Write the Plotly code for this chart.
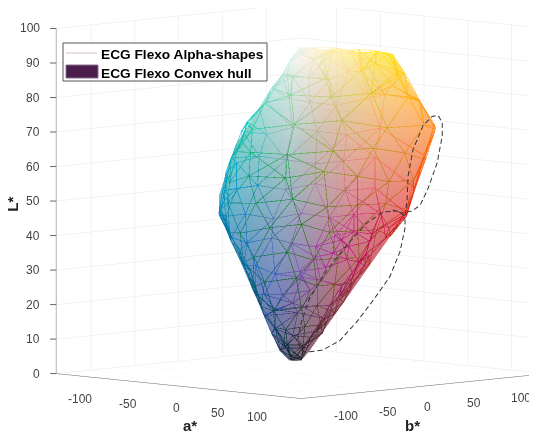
import math
import plotly.graph_objects as go

# Convex hull corners (a*, b*, L*)
hull_a = [-2, -5, 60, 72, 2, -3, 12, -2, 8, -48, -50, -60, -70, 78, 28, -30]
hull_b = [0, 109, 93, 48, -2, -11, -3, -23, -56, -46, -44, -15, 50, -5, -55, 40]
hull_L = [94.4, 89.6, 70.4, 47.1, 4, 4, 6.9, 7.1, 22.8, 46.4, 51.6, 65.2, 55, 48, 25, 85]
hull_colors = ["#fff6ea", "#ffdc00", "#ff7a10", "#e8141c", "#1a1020", "#14102c", "#5a0a30", "#14126a",
               "#1a30b0", "#00759c", "#0092b8", "#00a888", "#18a050", "#e0106a", "#3030c0", "#c8e0b0"]

# Alpha-shape vertices, read ring by ring from L* about 4 up to 94, then the dense rims
net_a = [-3, 2, 6, -8, 3, -6,
         10, 2, -8, -14, -4, 6, -10, 12,
         18, 22, 14, 4, -10, -22, -24, -10, 8,
         30, 34, 24, 14, 2, -16, -32, -38, -22, -6, 14,
         42, 50, 42, 30, 20, -2, -24, -42, -50, -36, -18, 2, 26,
         52, 62, 58, 44, 28, 8, -20, -38, -54, -62, -50, -30, -6, 22, 44,
         62, 72, 66, 52, 36, 16, -10, -30, -46, -58, -68, -62, -44, -22, 4, 30, 52,
         72, 74, 66, 50, 30, 6, -18, -34, -48, -56, -70, -72, -54, -30, -4, 24, 50, 68,
         70, 64, 46, 26, 4, -16, -30, -44, -54, -68, -74, -60, -36, -10, 18, 46, 64,
         66, 50, 32, 12, -8, -24, -38, -50, -62, -70, -56, -30, -4, 22, 48, 66,
         60, 42, 22, 4, -12, -26, -42, -54, -62, -46, -22, 6, 32, 56,
         42, 22, 6, -8, -20, -34, -46, -40, -24, -4, 18, 36,
         18, 6, -4, -12, -20, -24, -16, -6, 6, 12,
         0, -4, -8, -10, -8, -6, -2, -4, -6,
         -2, -3, -4, -5, -5, -5,
         10, 14, 22, 26, 32, 38, 40, 30, 46, 52, 54, 54, 60, 64, 64, 64, 70, 70, 66, 58,
         68, 60, 50, 50, 40, 32, 26,
         -44, -42, -36, -30, -22, -48, -52, -56, -58, -50, -40, -32, -22, -14, -30, -24, -40, -46,
         -2, 0, 10, 4, -10, 14, 24, 30]
net_b = [-8, -2, -6, -4, -12, 2,
         -3, -20, -16, -2, 6, -1, -10, -10,
         6, -6, -24, -34, -24, -8, 6, 14, 14,
         8, -8, -28, -44, -44, -28, -14, 6, 22, 24, 20,
         14, -6, -32, -52, -62, -50, -30, -14, 8, 30, 36, 36, 30,
         20, -4, -30, -46, -58, -60, -46, -32, -12, 8, 34, 44, 48, 44, 34,
         34, 6, -20, -36, -48, -50, -52, -50, -38, -24, -2, 26, 44, 54, 60, 56, 50,
         48, 16, -6, -18, -30, -38, -46, -52, -46, -36, -14, 20, 44, 60, 68, 72, 70, 52,
         60, 20, 4, -10, -22, -34, -44, -46, -32, -14, 14, 42, 62, 74, 82, 82, 64,
         76, 34, 16, 4, -10, -24, -36, -30, -12, 12, 40, 66, 86, 96, 92, 74,
         93, 48, 30, 14, 2, -14, -26, -8, 6, 38, 68, 92, 108, 96,
         92, 56, 34, 18, 6, -6, 4, 28, 58, 84, 104, 100,
         100, 62, 36, 20, 4, 14, 44, 76, 104, 98,
         100, 70, 44, 24, 8, 2, 90, 60, 30,
         0, 20, 45, 70, 90, 109,
         4, -4, 6, -4, 12, 4, -8, 18, 16, 6, -8, 24, 14, 2, -12, 36, 24, 10, -6, -20,
         -14, -24, -34, -28, -40, -30, -36,
         -42, -38, -34, -30, -26, -40, -34, -24, -10, -12, -8, -2, 0, 0, -40, -34, -46, -48,
         8, 35, 60, 80, 30, 40, 80, 65]
net_L = [4, 4, 5, 5, 5, 5,
         8, 8, 7, 8, 8, 9, 9, 8,
         12, 13, 12, 14, 12, 13, 12, 13, 14,
         18, 17, 19, 20, 18, 18, 19, 17, 18, 19, 18,
         25, 24, 26, 25, 25, 24, 26, 24, 25, 26, 24, 25, 26,
         32, 31, 33, 32, 31, 33, 32, 33, 31, 32, 33, 31, 32, 33, 32,
         40, 40, 41, 39, 40, 41, 39, 40, 41, 40, 39, 40, 41, 39, 40, 41, 40,
         47, 48, 48, 47, 48, 46, 47, 46, 46, 47, 48, 47, 48, 46, 47, 48, 47, 46,
         54, 55, 54, 56, 54, 55, 54, 53, 55, 54, 55, 54, 56, 55, 54, 55, 53,
         62, 63, 62, 61, 62, 63, 61, 62, 63, 62, 61, 62, 63, 62, 61, 63,
         70, 71, 69, 70, 71, 69, 70, 71, 69, 70, 71, 69, 70, 71,
         78, 79, 77, 78, 79, 78, 77, 79, 78, 79, 78, 77,
         85, 86, 84, 85, 86, 85, 84, 86, 85, 84,
         90, 91, 92, 90, 92, 93, 91, 92, 91,
         94.4, 93.8, 93, 92, 90.5, 89.6,
         10, 11, 15, 16, 22, 23, 21, 21, 28, 29, 27, 35, 36, 34, 35, 43, 44, 42, 43, 42,
         39, 37, 36, 29, 30, 21, 22,
         44, 38, 34, 28, 22, 50, 58, 62, 66, 72, 76, 82, 86, 90, 36, 30, 42, 47,
         94, 93.5, 90, 88, 88, 87, 82, 80]

# Dashed ellipses
ell1_a = [54.6, 62, 71.8, 81.6, 90.8, 100.5, 106.3, 109.1, 109.1, 104.5, 96.5, 87.3, 75.8, 64.4, 54.6, 50, 47.7, 50.6, 54.6]
ell1_b = [-45.4, -38, -28.2, -18.4, -9.2, 0.5, 6.3, 9.1, 9.1, 4.5, -3.5, -12.7, -24.2, -35.6, -45.4, -50, -52.3, -49.4, -45.4]
ell1_L = [8.9, 9.4, 12.1, 17.6, 23.7, 30.7, 38, 44.7, 48.2, 49.7, 49.4, 46.2, 39.8, 32.5, 24.3, 17.6, 11.8, 8.9, 8.9]
ell2_a = [109.1, 110.3, 110.9, 113.7, 119.5, 124.6, 128, 130.4, 130.4, 127.5, 122.4, 117.8, 113.2, 107.4, 102.2]
ell2_b = [9.1, 10.3, 10.9, 13.7, 19.5, 24.6, 28, 30.4, 30.4, 27.5, 22.4, 17.8, 13.2, 7.4, 2.2]
ell2_L = [48.2, 52.9, 59.9, 67.5, 74.5, 77.1, 77.4, 75.3, 71.5, 63.7, 56.4, 51.4, 49.7, 49.1, 50]

tick_vals_ab = [-100, -50, 0, 50, 100]
tick_vals_L = [0, 10, 20, 30, 40, 50, 60, 70, 80, 90, 100]
legend_names = ["ECG Flexo Alpha-shapes", "ECG Flexo Convex hull"]
axis_titles = ["a*", "b*", "L*"]
a_label_dx = [-11, -7, -2, -5, -9]
b_label_dx = [10, 8, 3, 6, 9]


def lab_rgb(L, a, b):
    # The darkest net colours read brighter and purer in the reference
    if L < 40:
        L, a, b = min(L + 8, 40), a * 1.15, b * 1.15
    fy = (L + 16) / 116
    fx = fy + a / 500
    fz = fy - b / 200
    def inv(t):
        return t ** 3 if t > 6 / 29 else 3 * (6 / 29) ** 2 * (t - 4 / 29)
    X, Y, Z = 0.9505 * inv(fx), inv(fy), 1.089 * inv(fz)
    lin = (3.2406 * X - 1.5372 * Y - 0.4986 * Z,
           -0.9689 * X + 1.8758 * Y + 0.0415 * Z,
           0.0557 * X - 0.204 * Y + 1.057 * Z)
    def gam(c):
        c = max(0, min(1, c))
        return 12.92 * c if c < 0.0031308 else 1.055 * c ** (1 / 2.4) - 0.055
    return "rgb(%d,%d,%d)" % tuple(round(255 * gam(c)) for c in lin)


# Edges: connect every vertex to its nearest neighbours, measured as drawn (L* is stretched)
n = len(net_a)
pairs = set()
for i in range(n):
    d = sorted((math.hypot(net_a[i] - net_a[j], net_b[i] - net_b[j], 2.8 * (net_L[i] - net_L[j])), j)
               for j in range(n) if j != i)
    for _, j in d[:6]:
        pairs.add((min(i, j), max(i, j)))
ex, ey, ez, ec = [], [], [], []
for i, j in sorted(pairs):
    ci, cj = lab_rgb(net_L[i], net_a[i], net_b[i]), lab_rgb(net_L[j], net_a[j], net_b[j])
    ex += [net_a[i], net_a[j], None]
    ey += [net_b[i], net_b[j], None]
    ez += [net_L[i], net_L[j], None]
    ec += [ci, cj, cj]

# Convex hull faces, listed back to front so that both layers blend
m = len(hull_a)
P = [(hull_a[t] / 280, hull_b[t] / 280, hull_L[t] / 100) for t in range(m)]
faces = []
for p in range(m):
    for q in range(p + 1, m):
        for r in range(q + 1, m):
            u = [P[q][t] - P[p][t] for t in range(3)]
            v = [P[r][t] - P[p][t] for t in range(3)]
            nrm = (u[1] * v[2] - u[2] * v[1], u[2] * v[0] - u[0] * v[2], u[0] * v[1] - u[1] * v[0])
            s = [sum(nrm[t] * (P[w][t] - P[p][t]) for t in range(3)) for w in range(m) if w not in (p, q, r)]
            if all(x <= 1e-9 for x in s) or all(x >= -1e-9 for x in s):
                faces.append((p, q, r))
faces.sort(key=lambda f: sum(P[w][0] - P[w][1] + 0.145 * P[w][2] for w in f))


def dashed(xs, ys, zs, on=5.0, off=3.0):
    """Cut a curve into dash pieces, measuring lengths as they appear on the page."""
    ox, oy, oz = [], [], []
    phase, drawing = 0.0, True
    ox.append(xs[0]); oy.append(ys[0]); oz.append(zs[0])
    for t in range(len(xs) - 1):
        da, db, dl = xs[t + 1] - xs[t], ys[t + 1] - ys[t], zs[t + 1] - zs[t]
        seg = math.hypot(0.871 * (da + db), 0.0888 * (da - db) - 3.43 * dl)
        pos = 0.0
        while seg > 0 and pos < seg:
            left = (on if drawing else off) - phase
            if pos + left <= seg:
                pos += left
                f = pos / seg
                qx, qy, qz = xs[t] + da * f, ys[t] + db * f, zs[t] + dl * f
                if drawing:
                    ox += [qx, None]; oy += [qy, None]; oz += [qz, None]
                else:
                    ox.append(qx); oy.append(qy); oz.append(qz)
                drawing = not drawing
                phase = 0.0
            else:
                phase += seg - pos
                pos = seg
                if drawing:
                    ox.append(xs[t + 1]); oy.append(ys[t + 1]); oz.append(zs[t + 1])
    return ox, oy, oz


fig = go.Figure()
fig.add_trace(go.Mesh3d(x=hull_a, y=hull_b, z=hull_L, i=[f[0] for f in faces], j=[f[1] for f in faces], k=[f[2] for f in faces],
                        vertexcolor=hull_colors, opacity=0.38, flatshading=False, name=legend_names[1],
                        lighting=dict(ambient=1, diffuse=0, specular=0, roughness=1, fresnel=0),
                        hoverinfo="skip", scene="scene"))
fig.add_trace(go.Scatter3d(x=ex, y=ey, z=ez, mode="lines", opacity=0.85, name=legend_names[0],
                           line=dict(color=ec, width=1.3), showlegend=False, hoverinfo="skip", scene="scene2"))
for xs, ys, zs in ((ell1_a, ell1_b, ell1_L), (ell2_a, ell2_b, ell2_L)):
    dx_, dy_, dz_ = dashed(xs, ys, zs)
    fig.add_trace(go.Scatter3d(x=dx_, y=dy_, z=dz_, mode="lines", showlegend=False,
                               line=dict(color="#333333", width=2), hoverinfo="skip", scene="scene2"))

label_font = dict(family="Liberation Sans", size=12, color="#444444")
scene_notes = []
for t, dx in zip(tick_vals_ab, a_label_dx):
    scene_notes.append(dict(x=t, y=-140, z=0, text=str(t), showarrow=False, xshift=dx, yshift=-22, font=label_font))
    scene_notes.append(dict(x=t, y=-140, z=0, text=" ", showarrow=True, arrowhead=0, arrowwidth=1, arrowcolor="#666666", ax=0, ay=8))
for t, dx in zip(tick_vals_ab, b_label_dx):
    scene_notes.append(dict(x=140, y=t, z=0, text=str(t), showarrow=False, xshift=dx, yshift=-21, font=label_font))
    scene_notes.append(dict(x=140, y=t, z=0, text=" ", showarrow=True, arrowhead=0, arrowwidth=1, arrowcolor="#666666", ax=0, ay=8))
for t in tick_vals_L:
    scene_notes.append(dict(x=-140, y=-140, z=t, text=str(t), showarrow=False, xanchor="right", xshift=-14, font=label_font))
    scene_notes.append(dict(x=-140, y=-140, z=t, text=" ", showarrow=True, arrowhead=0, arrowwidth=1, arrowcolor="#666666", ax=-9, ay=0))

axis = dict(showbackground=False, gridcolor="#e8e8e8", gridwidth=1, zeroline=False, showline=True,
            linecolor="#666666", linewidth=1, ticks="", showticklabels=False,
            tickfont=label_font, showspikes=False, title=dict(text=""))
hidden = dict(visible=False)
title_font = dict(family="Liberation Sans", size=15, color="#222222", weight="bold")
legend_font = dict(family="Liberation Sans", size=13.7, color="black", weight="bold")
cx, cy, cz = -0.081, -0.081, -0.113
zoom = 1.595
camera = dict(projection=dict(type="orthographic"), eye=dict(x=1.5 + cx, y=-1.5 + cy, z=0.217 + cz),
              center=dict(x=cx, y=cy, z=cz), up=dict(x=0, y=0, z=1))
cube = dict(aspectmode="manual", aspectratio=dict(x=zoom, y=zoom, z=zoom), camera=camera,
            domain=dict(x=[0, 1], y=[0, 1]), bgcolor="rgba(0,0,0,0)")
# The page body adds 8 px around the figure
px = lambda v: (v - 8) / 537
py = lambda v: 1 - (v - 8) / 435
# Annotations land on a slightly smaller paper box than shapes do
nx = lambda v: (v - 19.3) / 509.7
ny = lambda v: 1 - (v - 19.3) / 412.7
fig.update_layout(
    width=537, height=435, margin=dict(l=0, r=0, t=0, b=0), paper_bgcolor="white", showlegend=False,
    font=dict(family="Liberation Sans"),
    scene=dict(cube,
               xaxis=dict(axis, range=[-140, 140], tickvals=tick_vals_ab),
               yaxis=dict(axis, range=[-140, 140], tickvals=tick_vals_ab),
               zaxis=dict(axis, range=[0, 100], tickvals=tick_vals_L),
               annotations=scene_notes),
    scene2=dict(cube,
                xaxis=dict(hidden, range=[-140, 140]),
                yaxis=dict(hidden, range=[-140, 140]),
                zaxis=dict(hidden, range=[0, 100])),
    shapes=[
        dict(type="rect", xref="paper", yref="paper", x0=px(63), x1=px(267), y0=py(43), y1=py(81),
             fillcolor="white", line=dict(color="#555555", width=1)),
        dict(type="line", xref="paper", yref="paper", x0=px(66), x1=px(97), y0=py(53), y1=py(53),
             line=dict(color="#d0bccc", width=1)),
        dict(type="rect", xref="paper", yref="paper", x0=px(66), x1=px(98), y0=py(65), y1=py(78),
             fillcolor="#4a1d4d", line=dict(color="#8a7090", width=1)),
    ],
    annotations=[
        dict(text=legend_names[0], x=nx(106), y=ny(54), xref="paper", yref="paper", xanchor="left", showarrow=False, font=legend_font),
        dict(text=legend_names[1], x=nx(106), y=ny(72), xref="paper", yref="paper", xanchor="left", showarrow=False, font=legend_font),
        dict(text=axis_titles[0], x=nx(192), y=ny(425), xref="paper", yref="paper", showarrow=False, font=title_font),
        dict(text=axis_titles[1], x=nx(412), y=ny(425), xref="paper", yref="paper", showarrow=False, font=title_font),
        dict(text=axis_titles[2], x=nx(14), y=ny(205), xref="paper", yref="paper", showarrow=False, font=title_font, textangle=-90),
    ],
)
fig.write_html("out.html")
